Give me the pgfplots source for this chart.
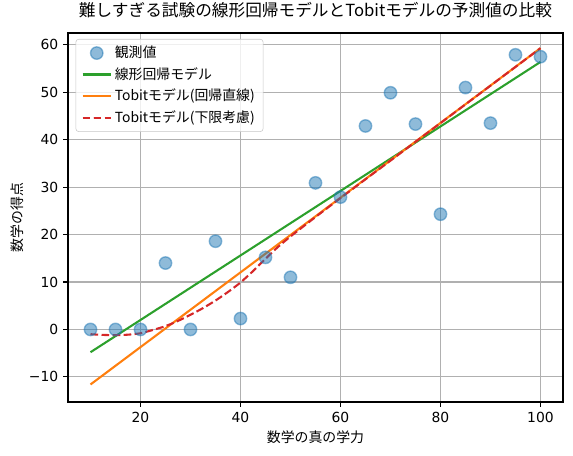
\documentclass[border=0pt]{standalone}
\usepackage{pgfplots}
\pgfplotsset{compat=1.18}
\usepackage{fontspec}
\setmainfont{Noto Sans CJK JP}
\newfontfamily\dejavu{DejaVu Sans}
\definecolor{tabblue}{HTML}{1F77B4}
\definecolor{tabgreen}{HTML}{2CA02C}
\definecolor{taborange}{HTML}{FF7F0E}
\definecolor{tabred}{HTML}{D62728}
\definecolor{gridgray}{HTML}{B0B0B0}
\begin{document}
\begin{tikzpicture}
\useasboundingbox (-48.96pt,-38.16pt) rectangle (363.6pt,289.46pt);
\begin{axis}[
  scale only axis,
  width=356.4pt, height=265.7pt,
  at={(0,0)}, anchor=south west,
  xmin=5.5, xmax=104.5, ymin=-15.3, ymax=62.5,
  xtick={20,40,60,80,100},
  ytick={-10,0,10,20,30,40,50,60},
  yticklabels={−10,0,10,20,30,40,50,60},
  xticklabels={20,40,60,80,100},
  tick align=outside,
  tickpos=left,
  major tick length=3.5pt,
  every tick/.style={black, line width=0.8pt},
  axis line style={line width=0.8pt},
  ticklabel style={font=\dejavu\fontsize{10}{12}\selectfont},
  grid=major,
  grid style={gridgray, line width=0.8pt},
  title={難しすぎる試験の線形回帰モデルとTobitモデルの予測値の比較},
  title style={at={(0.5,1)}, anchor=base, yshift=6pt, font=\fontsize{12}{14}\selectfont},
  xlabel={数学の真の学力},
  ylabel={数学の得点},
  xlabel style={at={(axis description cs:0.5,0)}, anchor=center, yshift=-25.2pt, font=\fontsize{10}{12}\selectfont},
  ylabel style={at={(axis description cs:-0.103,0.5)}, anchor=center, font=\fontsize{10}{12}\selectfont},
  legend cell align=left,
  legend style={at={(0,1)}, anchor=north west, xshift=5.5pt, yshift=-4.3pt,
    draw=gridgray!70, rounded corners=2pt, fill=white, fill opacity=0.8, text opacity=1, draw opacity=1,
    font=\fontsize{10}{12}\selectfont, row sep=1.5pt, inner xsep=4pt, inner ysep=3pt},
  legend image code/.code={\draw[mark repeat=2,mark phase=2] plot coordinates {(0cm,0cm)(0.36cm,0cm)(0.72cm,0cm)};},
]
\addplot[only marks, mark=*, mark size=4.47pt, mark options={fill=tabblue, draw=tabblue, fill opacity=0.5, draw opacity=0.5, line width=1pt}]
  coordinates {
  (10,0) (15,0) (20,0) (25,14.0) (30,0) (35,18.6) (40,2.3) (45,15.2)
  (50,11.0) (55,30.9) (60,27.9) (65,42.9) (70,49.9) (75,43.3) (80,24.3)
  (85,51.0) (90,43.5) (95,57.9) (100,57.5)
  };
\addlegendentry{観測値}
\addplot[tabgreen, line width=1.5pt] coordinates {(10,-4.8) (100,56.4)};
\addlegendentry{線形回帰モデル}
\addplot[taborange, line width=1.5pt] coordinates {(10,-11.6) (100,59.3)};
\addlegendentry{Tobitモデル(回帰直線)}
\addplot[tabred, line width=1.5pt, dash pattern=on 5.55pt off 2.4pt, smooth, tension=0.4] coordinates {
  (10,-1.0) (12.5,-1.15) (15,-1.2) (17.5,-1.1) (20,-0.8) (22.5,-0.1) (25,0.7)
  (27.5,1.8) (30,3.1) (32.5,4.5) (35,6.1) (37.5,7.9) (40,9.9) (42.5,12.3)
  (45,14.9) (47.5,17.4) (50,19.6) (55,23.7) (60,27.7) (70,35.6) (80,43.5)
  (90,51.4) (100,59.3)};
\addlegendentry{Tobitモデル(下限考慮)}
\end{axis}
\end{tikzpicture}
\end{document}
